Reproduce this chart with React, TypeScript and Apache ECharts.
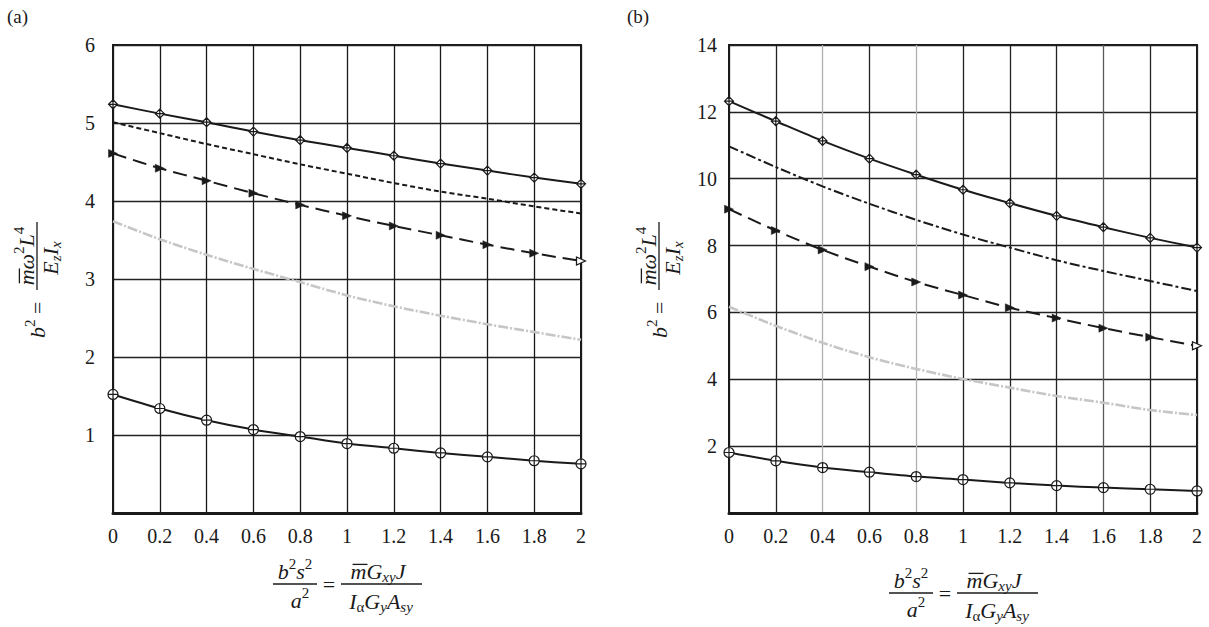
import React, { useEffect, useRef } from 'react';
import * as echarts from 'echarts';

// ---------- data ----------
const xValues = [0, 0.2, 0.4, 0.6, 0.8, 1, 1.2, 1.4, 1.6, 1.8, 2];

// panel (a)
const aDiamond = [5.24, 5.12, 5.01, 4.89, 4.78, 4.68, 4.58, 4.48, 4.39, 4.30, 4.22];
const aShortDash = [5.01, 4.87, 4.73, 4.60, 4.47, 4.35, 4.23, 4.12, 4.03, 3.93, 3.84];
const aTriangle = [4.61, 4.42, 4.26, 4.10, 3.95, 3.81, 3.68, 3.56, 3.44, 3.33, 3.23];
const aGray = [3.74, 3.51, 3.31, 3.13, 2.96, 2.79, 2.65, 2.53, 2.42, 2.32, 2.22];
const aCircle = [1.52, 1.34, 1.19, 1.07, 0.98, 0.89, 0.83, 0.77, 0.72, 0.67, 0.63];

// panel (b)
const bDiamond = [12.32, 11.72, 11.13, 10.60, 10.12, 9.67, 9.27, 8.89, 8.55, 8.23, 7.94];
const bDashDot = [10.97, 10.35, 9.77, 9.25, 8.77, 8.33, 7.94, 7.56, 7.24, 6.94, 6.64];
const bTriangle = [9.09, 8.45, 7.87, 7.37, 6.91, 6.52, 6.14, 5.83, 5.53, 5.26, 5.0];
const bGray = [6.17, 5.60, 5.09, 4.66, 4.31, 4.01, 3.75, 3.50, 3.30, 3.08, 2.93];
const bCircle = [1.81, 1.56, 1.36, 1.22, 1.09, 1.0, 0.90, 0.82, 0.76, 0.71, 0.66];

const panelLabels = ['(a)', '(b)'];
const yRange = [
  { max: 6, interval: 1 },
  { max: 14, interval: 2 },
];

// ---------- style ----------
const FONT = 'Liberation Serif';
const INK = '#1a1a1a';

const diamondPlus = 'path://M5,0 L10,5 L5,10 L0,5 Z M5,0 L5,10 M0,5 L10,5';
const circlePlus = 'path://M0,5 A5,5 0 1 1 10,5 A5,5 0 1 1 0,5 Z M5,0 L5,10 M0,5 L10,5';
const triRight = 'path://M0,0 L10,5 L0,10 Z';

type P = { t: string; it?: boolean; sup?: boolean; sub?: boolean; over?: boolean };

let measureCtx: CanvasRenderingContext2D | null = null;
function measure(t: string, size: number, italic: boolean) {
  if (!measureCtx) measureCtx = document.createElement('canvas').getContext('2d');
  measureCtx!.font = `${italic ? 'italic ' : ''}${size}px "${FONT}"`;
  return measureCtx!.measureText(t).width;
}

function mathRow(pieces: P[], base: number, cx: number, cy: number, align: 'left' | 'center') {
  const small = Math.round(base * 0.66);
  const ws = pieces.map((p) => measure(p.t, p.sup || p.sub ? small : base, !!p.it));
  const total = ws.reduce((a, b) => a + b, 0);
  let x = align === 'center' ? cx - total / 2 : cx;
  const els: any[] = [];
  pieces.forEach((p, i) => {
    const sz = p.sup || p.sub ? small : base;
    const dy = p.sup ? -base * 0.3 : p.sub ? base * 0.28 : 0;
    els.push({
      type: 'text',
      x,
      y: cy + dy,
      silent: true,
      style: {
        text: p.t,
        fontSize: sz,
        fontFamily: FONT,
        fontStyle: p.it ? 'italic' : 'normal',
        fill: INK,
        align: 'left',
        verticalAlign: 'middle',
      },
    });
    if (p.over) {
      els.push({
        type: 'line',
        silent: true,
        shape: { x1: x + 2, y1: cy - base * 0.3, x2: x + ws[i] + 1, y2: cy - base * 0.3 },
        style: { stroke: INK, lineWidth: 1.3 },
      });
    }
    x += ws[i];
  });
  return els;
}

function hline(x1: number, x2: number, y: number) {
  return { type: 'line', silent: true, shape: { x1, y1: y, x2, y2: y }, style: { stroke: INK, lineWidth: 1.3 } };
}

function yTitle(cx: number, cy: number) {
  const base = 22;
  const children = [
    ...mathRow([{ t: 'b', it: true }, { t: '2', sup: true }, { t: ' =' }], base, -58, 0, 'left'),
    ...mathRow(
      [{ t: 'm', it: true, over: true }, { t: 'ω', it: true }, { t: '2', sup: true }, { t: 'L', it: true }, { t: '4', sup: true }],
      base, 24, -11, 'center'
    ),
    hline(-10, 58, 0),
    ...mathRow(
      [{ t: 'E', it: true }, { t: 'z', it: true, sub: true }, { t: 'I', it: true }, { t: 'x', it: true, sub: true }],
      base, 22, 13, 'center'
    ),
  ];
  return { type: 'group', x: cx, y: cy, rotation: Math.PI / 2, children };
}

function xTitle(dx: number, dy: number) {
  const base = 22;
  return {
    type: 'group',
    x: dx,
    y: dy,
    children: [
      ...mathRow([{ t: 'b', it: true }, { t: '2', sup: true }, { t: 's', it: true }, { t: '2', sup: true }], base, 295, 571, 'center'),
      hline(273, 317, 584),
      ...mathRow([{ t: 'a', it: true }, { t: '2', sup: true }], base, 300, 600, 'center'),
      ...mathRow([{ t: '=' }], base, 329, 584, 'center'),
      ...mathRow(
        [{ t: 'm', it: true, over: true }, { t: 'G', it: true }, { t: 'xy', it: true, sub: true }, { t: 'J', it: true }],
        base, 378, 571, 'center'
      ),
      hline(341, 422, 584),
      ...mathRow(
        [{ t: 'I', it: true }, { t: 'α', sub: true }, { t: 'G', it: true }, { t: 'y', it: true, sub: true }, { t: 'A', it: true }, { t: 'sy', it: true, sub: true }],
        base, 381, 601, 'center'
      ),
    ],
  };
}

function pts(values: number[]) {
  return xValues.map((x, i) => [x, values[i]]);
}

function series(idx: number, values: number[], kind: 'diamond' | 'circle' | 'triangle' | 'plain', dash: any, color = INK, width = 2) {
  const base: any = {
    type: 'line',
    xAxisIndex: idx,
    yAxisIndex: idx,
    smooth: 0.3,
    silent: true,
    lineStyle: { color, width, type: dash },
    z: kind === 'plain' ? 3 : 4,
  };
  if (kind === 'plain') {
    return { ...base, data: pts(values), showSymbol: false, symbol: 'none' };
  }
  if (kind === 'triangle') {
    const data = pts(values).map((p, i) =>
      i === values.length - 1
        ? { value: p, itemStyle: { color: '#fff', borderColor: INK, borderWidth: 1.2 } }
        : { value: p }
    );
    return {
      ...base,
      data,
      symbol: triRight,
      symbolSize: [9, 8],
      itemStyle: { color: INK, borderColor: INK, borderWidth: 0.5 },
    };
  }
  return {
    ...base,
    data: pts(values),
    symbol: kind === 'diamond' ? diamondPlus : circlePlus,
    symbolSize: kind === 'diamond' ? 9 : 10,
    itemStyle: { color: '#fff', borderColor: INK, borderWidth: 1.2 },
  };
}

export default function App() {
  const ref = useRef<HTMLDivElement>(null);
  useEffect(() => {
    document.body.style.margin = '0';
    const chart = echarts.init(ref.current!, undefined, { renderer: 'svg' });

    const grids = [
      { left: 113, top: 45, width: 468, height: 468 },
      { left: 729, top: 45, width: 468, height: 468 },
    ].map((g) => ({ ...g, show: true, borderColor: INK, borderWidth: 2, backgroundColor: 'transparent' }));

    const xSplitColors = [
      [INK],
      ['#222', '#222', '#b0b0b0', '#222', '#b0b0b0', '#222', '#222', '#222', '#5a5a5a', '#222', '#222'],
    ];

    const xAxes = [0, 1].map((i) => ({
      gridIndex: i,
      type: 'value',
      min: 0,
      max: 2,
      interval: 0.2,
      axisLine: { show: true, onZero: false, lineStyle: { color: INK, width: 3 } },
      axisTick: { show: false },
      axisLabel: {
        margin: 13,
        fontSize: 20,
        fontFamily: FONT,
        color: INK,
        formatter: (v: number) => String(Math.round(v * 10) / 10),
      },
      splitLine: { show: true, lineStyle: { color: xSplitColors[i], width: 1.3 } },
    }));

    const yAxes = [0, 1].map((i) => ({
      gridIndex: i,
      type: 'value',
      min: 0,
      max: yRange[i].max,
      interval: yRange[i].interval,
      axisLine: { show: true, onZero: false, lineStyle: { color: INK, width: 2 } },
      axisTick: { show: false },
      axisLabel: {
        margin: i === 0 ? 18 : 12,
        fontSize: 20,
        fontFamily: FONT,
        color: INK,
        formatter: (v: number) => (v === 0 ? '' : String(v)),
      },
      splitLine: { show: true, lineStyle: { color: '#222', width: 1.3 } },
    }));

    const allSeries = [
      series(0, aGray, 'plain', [10, 2, 2, 2], '#c6c6c6', 2.6),
      series(0, aShortDash, 'plain', [5, 3]),
      series(0, aDiamond, 'diamond', 'solid'),
      series(0, aTriangle, 'triangle', [14, 7]),
      series(0, aCircle, 'circle', 'solid'),
      series(1, bGray, 'plain', [10, 2, 2, 2], '#c6c6c6', 2.6),
      series(1, bDashDot, 'plain', [10, 3, 3, 3]),
      series(1, bDiamond, 'diamond', 'solid'),
      series(1, bTriangle, 'triangle', [14, 7]),
      series(1, bCircle, 'circle', 'solid'),
    ];

    const labelStyle = (text: string, x: number) => ({
      type: 'text',
      x,
      y: 16,
      silent: true,
      style: { text, fontSize: 19, fontFamily: FONT, fill: INK, align: 'left', verticalAlign: 'middle' },
    });

    chart.setOption({
      animation: false,
      backgroundColor: '#ffffff',
      grid: grids,
      xAxis: xAxes,
      yAxis: yAxes,
      series: allSeries,
      graphic: [
        labelStyle(panelLabels[0], 7),
        labelStyle(panelLabels[1], 627),
        yTitle(37, 280),
        yTitle(659, 280),
        xTitle(0, 0),
        xTitle(616, 9),
      ],
    });
    return () => chart.dispose();
  }, []);
  return <div ref={ref} style={{ width: 1209, height: 627 }} />;
}
